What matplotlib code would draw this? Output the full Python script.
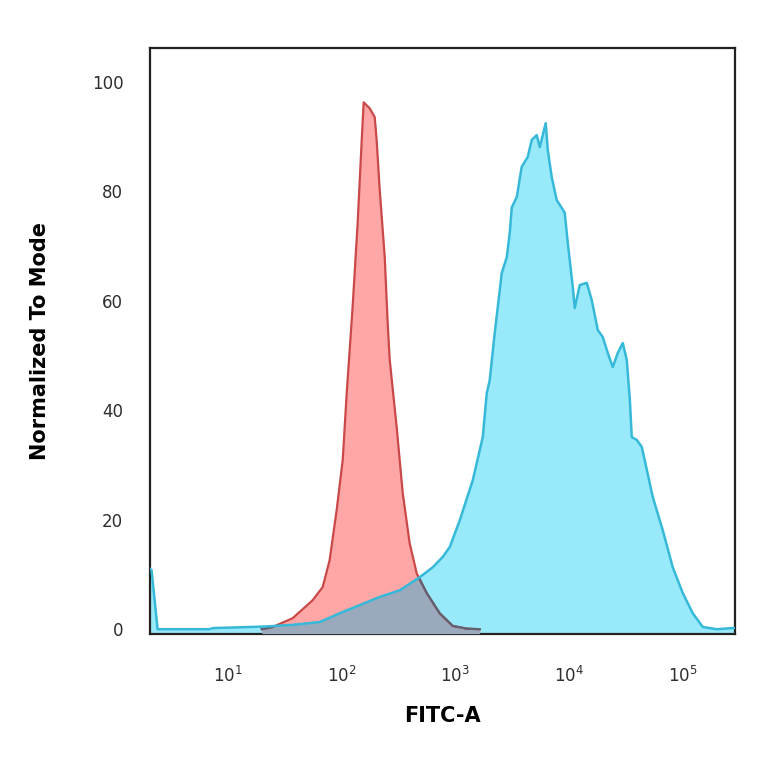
import numpy as np
import matplotlib
matplotlib.use("Agg")
import matplotlib.pyplot as plt
from matplotlib.ticker import FixedLocator, NullLocator

# isotype control (red) as log10(FITC-A) vs % of mode
red_log = [1.30, 1.395, 1.571, 1.747, 1.835, 1.896, 1.958, 2.011, 2.046, 2.098, 2.142,
           2.178, 2.195, 2.248, 2.292, 2.309, 2.336, 2.380, 2.406, 2.424, 2.485,
           2.538, 2.599, 2.661, 2.749, 2.863, 2.977, 3.10, 3.214]
red_val = [0.0, 0.4, 2.0, 5.3, 7.7, 12.6, 21.8, 30.9, 43.1, 58.9, 74.2,
           89.4, 96.3, 95.2, 93.6, 89.4, 80.3, 68.0, 55.9, 49.2, 36.9,
           24.9, 15.7, 10.2, 6.6, 2.9, 0.6, 0.1, 0.0]

# stained sample (blue)
blue_log = [0.27, 0.315, 0.332, 0.385, 0.60, 0.84, 0.87, 1.343, 1.571, 1.808, 1.984,
            2.160, 2.336, 2.511, 2.687, 2.801, 2.889, 2.951, 3.039, 3.153, 3.241,
            3.276, 3.302, 3.346, 3.408, 3.452, 3.478, 3.496, 3.540, 3.583, 3.636,
            3.671, 3.715, 3.742, 3.794, 3.812, 3.847, 3.891, 3.935, 3.961, 3.988,
            4.032, 4.049, 4.093, 4.155, 4.199, 4.251, 4.295, 4.339, 4.383, 4.427,
            4.471, 4.506, 4.533, 4.550, 4.594, 4.638, 4.735, 4.822, 4.910, 4.998,
            5.086, 5.174, 5.297, 5.50]
blue_val = [13.0, 11.0, 10.8, 0.0, 0.0, 0.0, 0.2, 0.5, 0.8, 1.3, 2.9,
            4.4, 5.9, 7.1, 9.5, 11.3, 13.2, 15.0, 19.9, 27.2, 35.1,
            43.1, 45.5, 54.1, 65.1, 68.0, 72.4, 77.1, 79.0, 84.5, 86.3,
            89.4, 90.3, 88.1, 92.5, 87.6, 82.6, 78.4, 77.0, 76.1, 70.6,
            62.5, 58.7, 62.9, 63.3, 60.1, 54.7, 53.4, 50.5, 47.9, 50.5,
            52.3, 49.2, 41.9, 35.1, 34.6, 33.3, 24.1, 18.1, 11.3, 6.6,
            2.9, 0.4, 0.0, 0.3]

x_ticks = [1e1, 1e2, 1e3, 1e4, 1e5]
x_labels = ["$10^{1}$", "$10^{2}$", "$10^{3}$", "$10^{4}$", "$10^{5}$"]
y_ticks = [0, 20, 40, 60, 80, 100]

plt.rcParams["mathtext.default"] = "regular"

red_x = 10 ** np.array(red_log)
blue_x = 10 ** np.array(blue_log)
base = -0.9

fig = plt.figure(figsize=(7.64, 7.64), dpi=100)
ax = fig.add_axes([0.196, 0.170, 0.766, 0.767])

blue_poly = ax.fill_between(blue_x, base, blue_val, color="#98eafa", lw=0, zorder=1)
ax.fill_between(red_x, base, red_val, color="#ffa7a7", lw=0, zorder=2)
# overlap looks like a multiply blend: grey-blue
overlap = ax.fill_between(red_x, base, red_val, color="#9aa9bb", lw=0, zorder=3)
clip = blue_poly.get_paths()[0]
overlap.set_clip_path(clip, blue_poly.get_transform())

ax.plot(red_x, red_val, color="#c94848", lw=1.6, zorder=4)
red_dark, = ax.plot(red_x, red_val, color="#5d6373", lw=1.6, zorder=5)
red_dark.set_clip_path(clip, blue_poly.get_transform())
ax.plot(blue_x, blue_val, color="#36b9d9", lw=1.8, zorder=6)

ax.set_xscale("log")
ax.set_xlim(2.07, 2.86e5)
ax.set_ylim(base, 106.2)

ax.xaxis.set_major_locator(FixedLocator(x_ticks))
ax.xaxis.set_minor_locator(NullLocator())
ax.set_xticklabels(x_labels)
ax.set_yticks(y_ticks)
ax.tick_params(axis="both", length=0, labelsize=12, colors="#2e2e2e")
ax.tick_params(axis="x", pad=23)
ax.tick_params(axis="y", pad=19)

for s in ax.spines.values():
    s.set_linewidth(1.6)
    s.set_color("#222222")

ax.set_xlabel("FITC-A", fontsize=15, fontweight="bold", labelpad=14)
ax.set_ylabel("Normalized To Mode", fontsize=15, fontweight="bold", labelpad=30)

fig.savefig("out.png", dpi=100)
